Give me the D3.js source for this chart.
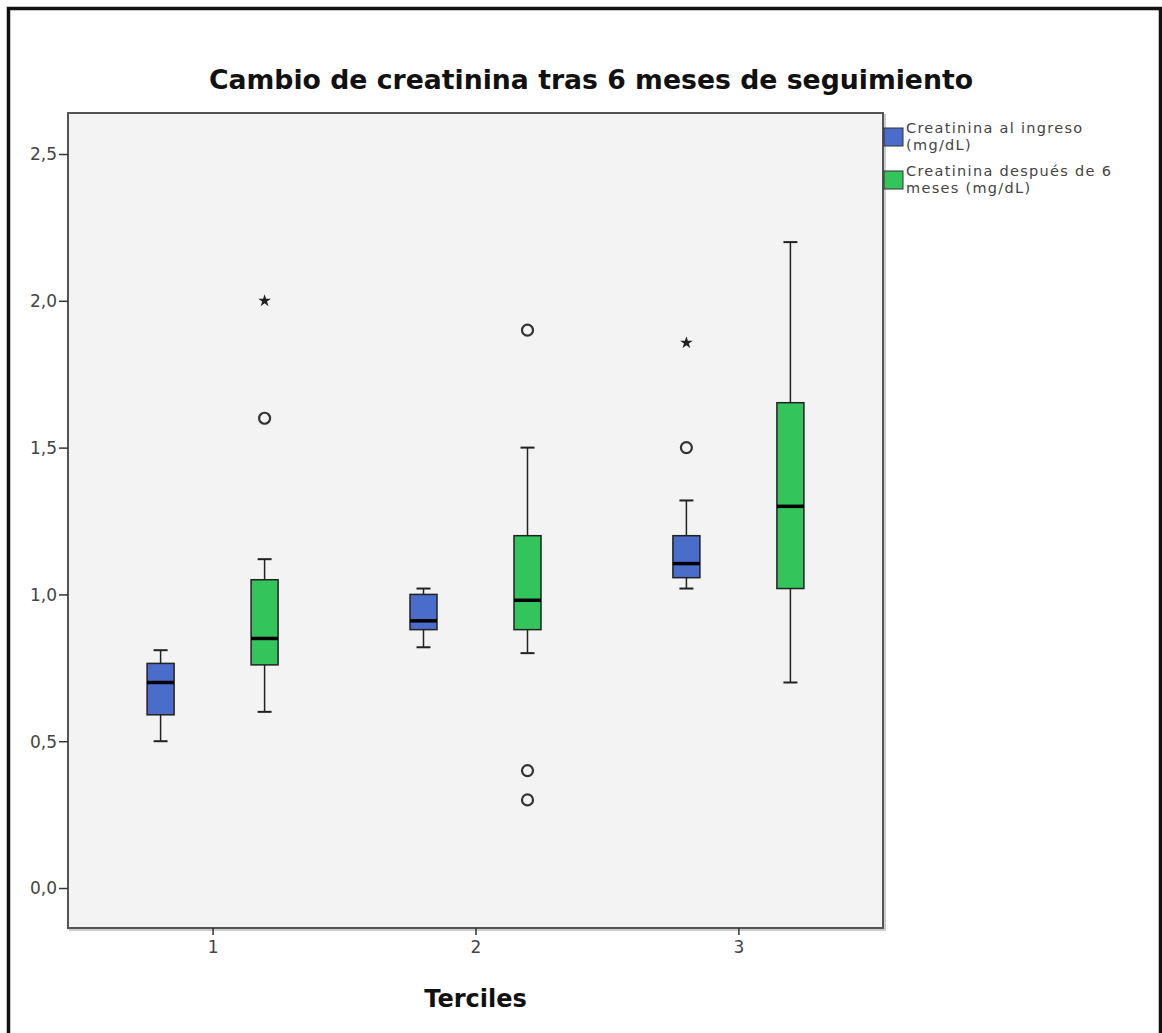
<!DOCTYPE html>
<html>
<head>
<meta charset="utf-8">
<script src="https://cdn.jsdelivr.net/npm/d3@7"></script>
<style>
  body { margin: 0; background: #fff; }
  svg { display: block; }
</style>
</head>
<body>
<svg id="chart"></svg>
<script>
// Data
const terciles = ["1", "2", "3"];
const series = ["Creatinina al ingreso (mg/dL)", "Creatinina después de 6 meses (mg/dL)"];
const legendLines = [["Creatinina al ingreso", "(mg/dL)"], ["Creatinina después de 6", "meses (mg/dL)"]];
const seriesColors = ["#4a6dcc", "#33c45b"];

// [whiskerLow, q1, median, q3, whiskerHigh] per tercile
const ingresoStats = [
  [0.50, 0.59, 0.70, 0.765, 0.81],
  [0.82, 0.88, 0.91, 1.00, 1.02],
  [1.02, 1.057, 1.105, 1.20, 1.32]
];
const seisMesesStats = [
  [0.60, 0.76, 0.85, 1.05, 1.12],
  [0.80, 0.88, 0.98, 1.20, 1.50],
  [0.70, 1.02, 1.30, 1.653, 2.20]
];
// outliers: [tercile, value, type]
const ingresoOutliers = [["3", 1.50, "circle"], ["3", 1.857, "star"]];
const seisMesesOutliers = [["1", 1.60, "circle"], ["1", 2.00, "star"], ["2", 1.90, "circle"], ["2", 0.40, "circle"], ["2", 0.30, "circle"]];
const yTicks = [0, 0.5, 1.0, 1.5, 2.0, 2.5];

const width = 1162, height = 1033;
const margin = { top: 113, right: 279, bottom: 105, left: 68 };
const plotW = width - margin.left - margin.right;
const plotH = height - margin.top - margin.bottom;

const svg = d3.select("#chart").attr("width", width).attr("height", height);

// outer frame
svg.append("rect")
  .attr("x", 8.5).attr("y", 8.5)
  .attr("width", 1152).attr("height", 1060)
  .attr("fill", "none").attr("stroke", "#111").attr("stroke-width", 3.5);

const g = svg.append("g").attr("transform", `translate(${margin.left},${margin.top})`);

const x = d3.scalePoint().domain(terciles).range([0, plotW]).padding(0.55);
const y = d3.scaleLinear().domain([-0.1362, 2.6397]).range([plotH, 0]);

// faint shadow of the plot frame
g.append("rect")
  .attr("x", 2).attr("y", 2)
  .attr("width", plotW).attr("height", plotH)
  .attr("fill", "none").attr("stroke", "#ccc").attr("stroke-width", 2);

g.append("rect")
  .attr("width", plotW).attr("height", plotH)
  .attr("fill", "#f3f3f3").attr("stroke", "#555").attr("stroke-width", 2);

// axes
const yAxis = g.append("g")
  .call(d3.axisLeft(y).tickValues(yTicks).tickSize(9).tickSizeOuter(0)
    .tickFormat(d => d3.format(".1f")(d).replace(".", ",")));
yAxis.select(".domain").remove();
yAxis.selectAll("line").attr("stroke", "#333").attr("stroke-width", 1.5);
yAxis.selectAll("text").attr("fill", "#444").attr("font-size", 17)
  .attr("font-family", "DejaVu Sans").attr("x", -11).attr("dy", "0.35em");

const xAxis = g.append("g").attr("transform", `translate(0,${plotH})`)
  .call(d3.axisBottom(x).tickSize(7).tickSizeOuter(0));
xAxis.select(".domain").remove();
xAxis.selectAll("line").attr("stroke", "#333").attr("stroke-width", 1.5);
xAxis.selectAll("text").attr("fill", "#444").attr("font-size", 17)
  .attr("font-family", "DejaVu Sans").attr("y", 13);

const boxW = 27, offset = 52, capW = 14;

function drawBoxes(stats, color, dx) {
  stats.forEach((s, i) => {
    const cx = x(terciles[i]) + dx;
    const grp = g.append("g");
    grp.append("line").attr("x1", cx).attr("x2", cx)
      .attr("y1", y(s[0])).attr("y2", y(s[4]))
      .attr("stroke", "#222").attr("stroke-width", 1.5);
    [s[0], s[4]].forEach(v => {
      grp.append("line").attr("x1", cx - capW / 2).attr("x2", cx + capW / 2)
        .attr("y1", y(v)).attr("y2", y(v))
        .attr("stroke", "#222").attr("stroke-width", 2);
    });
    grp.append("rect").attr("x", cx - boxW / 2).attr("y", y(s[3]))
      .attr("width", boxW).attr("height", y(s[1]) - y(s[3]))
      .attr("fill", color).attr("stroke", "#222").attr("stroke-width", 1.5);
    grp.append("line").attr("x1", cx - boxW / 2).attr("x2", cx + boxW / 2)
      .attr("y1", y(s[2])).attr("y2", y(s[2]))
      .attr("stroke", "#000").attr("stroke-width", 3.5);
  });
}

function drawOutliers(list, dx) {
  list.forEach(([t, v, type]) => {
    const cx = x(t) + dx, cy = y(v);
    if (type === "circle") {
      g.append("circle").attr("cx", cx).attr("cy", cy).attr("r", 5.5)
        .attr("fill", "none").attr("stroke", "#333").attr("stroke-width", 2.2);
    } else {
      g.append("path").attr("d", d3.symbol(d3.symbolStar, 50)())
        .attr("transform", `translate(${cx},${cy})`).attr("fill", "#222");
    }
  });
}

drawBoxes(ingresoStats, seriesColors[0], -offset);
drawBoxes(seisMesesStats, seriesColors[1], offset);
drawOutliers(ingresoOutliers, -offset);
drawOutliers(seisMesesOutliers, offset);

// title
svg.append("text")
  .attr("x", 591).attr("y", 89)
  .attr("text-anchor", "middle")
  .attr("font-family", "DejaVu Sans").attr("font-weight", "bold")
  .attr("font-size", 26.7).attr("fill", "#111")
  .text("Cambio de creatinina tras 6 meses de seguimiento");

// x axis title
svg.append("text")
  .attr("x", margin.left + x("2")).attr("y", 1007)
  .attr("text-anchor", "middle")
  .attr("font-family", "DejaVu Sans").attr("font-weight", "bold")
  .attr("font-size", 24).attr("fill", "#111")
  .text("Terciles");

// legend
const legend = svg.append("g").attr("transform", "translate(884,0)");
const legendY = [127, 170];
series.forEach((s, i) => {
  legend.append("rect").attr("x", 0).attr("y", legendY[i] + 1)
    .attr("width", 19).attr("height", 18)
    .attr("fill", seriesColors[i]).attr("stroke", "#333").attr("stroke-width", 1);
  legendLines[i].forEach((line, j) => {
    legend.append("text")
      .attr("font-family", "DejaVu Sans").attr("font-size", 14.5)
      .attr("letter-spacing", 1.3).attr("fill", "#444")
      .attr("x", 22).attr("y", legendY[i] + 6 + j * 17).text(line);
  });
});
</script>
</body>
</html>
